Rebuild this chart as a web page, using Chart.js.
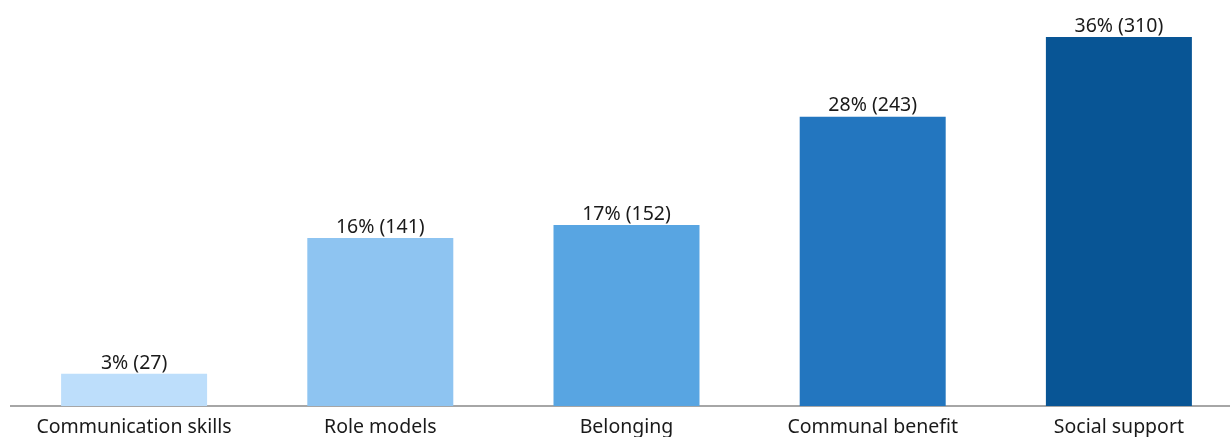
<!DOCTYPE html>
<html>
<head>
<meta charset="utf-8">
<script src="https://cdn.jsdelivr.net/npm/chart.js@4"></script>
<style>
  html, body { margin: 0; padding: 0; background: #fff; overflow: hidden; }
  #wrap { position: relative; width: 1242px; height: 437px; }
</style>
</head>
<body>
<div id="wrap"><canvas id="bar-chart"></canvas></div>
<script>
const categories = ['Communication skills', 'Role models', 'Belonging', 'Communal benefit', 'Social support'];
const counts = [27, 141, 152, 243, 310];
const percents = ['3%', '16%', '17%', '28%', '36%'];
const barColors = ['#BDDEFB', '#8EC4F1', '#58A5E2', '#2376BF', '#085595'];

const ctx = document.getElementById('bar-chart').getContext('2d');

// labels above each bar: "pct (count)"
const valueLabels = {
  id: 'valueLabels',
  afterDatasetsDraw(chart) {
    const c = chart.ctx;
    const meta = chart.getDatasetMeta(0);
    c.save();
    c.font = '19.5px "Noto Sans", sans-serif';
    c.fillStyle = '#1a1a1a';
    c.textAlign = 'center';
    c.textBaseline = 'bottom';
    meta.data.forEach((bar, i) => {
      c.fillText(percents[i] + ' (' + counts[i] + ')', bar.x, bar.y - 1);
    });
    c.restore();
  },
};

new Chart(ctx, {
  type: 'bar',
  data: {
    labels: categories,
    datasets: [
      {
        data: counts,
        backgroundColor: barColors,
        borderWidth: 0,
        barPercentage: 0.593,
        categoryPercentage: 1,
      },
    ],
  },
  options: {
    responsive: true,
    maintainAspectRatio: false,
    animation: false,
    layout: { padding: { left: 11, right: 0, top: 0, bottom: 0 } },
    plugins: {
      legend: { display: false },
      tooltip: { enabled: false },
    },
    scales: {
      x: {
        grid: { display: false },
        border: { display: true, color: '#a6a6a6', width: 2 },
        ticks: {
          color: '#1a1a1a',
          padding: 2,
          maxRotation: 0,
          autoSkip: false,
          font: { family: '"Noto Sans", sans-serif', size: 19.5 },
        },
        afterFit(scale) {
          scale.height = 31;
        },
      },
      y: {
        display: false,
        min: 0,
        max: 341,
      },
    },
  },
  plugins: [valueLabels],
});
</script>
</body>
</html>
